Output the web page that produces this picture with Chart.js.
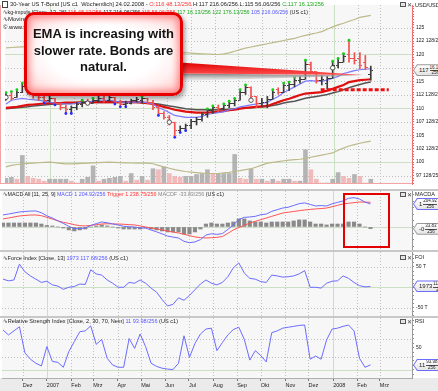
<!DOCTYPE html>
<html><head><meta charset="utf-8">
<script src="https://cdn.jsdelivr.net/npm/chart.js@4.4.1/dist/chart.umd.min.js"></script>
<style>
html,body{margin:0;padding:0;}
body{width:438px;height:391px;overflow:hidden;position:relative;background:#c8c8c8;font-family:"Liberation Sans",Arial,sans-serif;}
canvas{position:absolute;left:0;display:block;}
.t{position:absolute;white-space:nowrap;font-size:6px;line-height:7px;color:#222;transform-origin:0 0;}
.b{color:#5656ff}.r{color:#ff3434}.g{color:#1ca81c}.gy{color:#8a8a8a}
.ax{position:absolute;left:415px;font-size:5.5px;line-height:6px;color:#222;white-space:nowrap;}
.ic{position:absolute;left:400px;font-size:6px;line-height:6px;color:#444;white-space:nowrap;}
.ic i{display:inline-block;width:4px;height:3px;border:1px solid #555;background:#e4e4e4;vertical-align:top;margin-right:1px}
.vb{position:absolute;left:413px;width:30px;height:12px;clip-path:polygon(0 50%,4px 0,100% 0,100% 100%,4px 100%);}
.vb .in{position:absolute;left:1px;top:1px;right:0;bottom:1px;clip-path:polygon(0 50%,3.5px 0,100% 0,100% 100%,3.5px 100%);background:linear-gradient(#ffffff,#e4e4e4);font-size:6px;line-height:10px;color:#222;white-space:nowrap;padding-left:5px;}
.fr{display:inline-block;vertical-align:top;font-size:4.5px;line-height:4.6px;text-align:center;margin-left:1px;margin-top:0.5px}
.fr span{display:block}
.fr span:first-child{border-bottom:0.5px solid #555}
#icon0{position:absolute;left:2px;top:1px;width:4px;height:5px;border:1px solid #444;background:#fff;}
#callout{position:absolute;left:24px;top:12px;width:153px;height:78px;border:3px solid #e80000;border-radius:10px;
 background:radial-gradient(ellipse at center,#ffffff 50%,#fff0f0 70%,#ffc4c4 100%);
 box-shadow:inset 0 0 6px 3px rgba(255,50,50,0.45),2px 3px 4px rgba(0,0,0,0.35);}
#ctext{position:absolute;left:24px;top:26px;width:159px;text-align:center;font-weight:bold;font-size:13px;line-height:16.5px;color:#141414;white-space:nowrap;}
#redbox{position:absolute;left:343px;top:193px;width:43px;height:51px;border:2px solid #e40000;}
</style></head><body>
<canvas id="cMain" width="438" height="189" style="top:0px"></canvas>
<canvas id="cMacd" width="438" height="59" style="top:191px"></canvas>
<canvas id="cFoi" width="438" height="64" style="top:252px"></canvas>
<canvas id="cRsi" width="438" height="73" style="top:318px"></canvas>

<div id="icon0"></div>
<div class="t" id="h1" style="left:10px;top:0.5px">30-Year US T-Bond [US c1&nbsp; Wöchentlich] 24.02.2008 - <span class="r">O:116 48.13/256</span> H:117 216.06/256 L:115 56.06/256 <span class="g">C:117 16.13/256</span></div>
<div class="t" id="h2" style="left:3px;top:8.5px">∿kg-impuls [Close, 13, 26] <span class="r">116 48.13/256</span> 117 216.06/256 <span class="r">115 56.06/256</span> <span class="g">117 16.13/256</span> <span class="g">122 176.13/256</span> <span class="b">105 216.06/256</span> (US c1)</div>
<div class="t" id="h3" style="left:3px;top:16px">∿Moving Average [Close, 8, 21, 34]</div>
<div class="t" id="h4" style="left:3px;top:23.5px">© www.wallstreet-online.de</div>
<div class="ic" style="top:2px"><i></i>✕</div><div class="ax" style="top:1.5px">USD/USD</div>

<div class="t" id="hM" style="left:3px;top:191px">∿MACD All [11, 25, 9] <span class="b">MACD 1 204.92/256</span> <span class="r">Trigger 1 238.75/256</span> <span class="gy">MACDF -33.83/256</span> (US c1)</div>
<div class="ic" style="top:192px"><i></i>✕</div><div class="ax" style="top:190.5px">MACDA</div>

<div class="t" id="hF" style="left:3px;top:254.8px">∿Force Index [Close, 13] <span class="b">1973 117.68/256</span> (US c1)</div>
<div class="ic" style="top:255px"><i></i>✕</div><div class="ax" style="top:254px">FOI</div>

<div class="t" id="hR" style="left:3px;top:318.2px">∿Relative Strength Index [Close, 2, 30, 70, Nein] <span class="b">11 93.98/256</span> (US c1)</div>
<div class="ic" style="top:319px"><i></i>✕</div><div class="ax" style="top:318px">RSI</div>

<svg id="arrow" width="438" height="120" style="position:absolute;left:0;top:0">
 <defs>
  <linearGradient id="sh" x1="0" y1="0" x2="0" y2="1"><stop offset="0" stop-color="#7a7a7a"/><stop offset="1" stop-color="#e0e0e0" stop-opacity="0.4"/></linearGradient>
  <linearGradient id="rd" x1="0" y1="0" x2="0" y2="1"><stop offset="0" stop-color="#e00000"/><stop offset="1" stop-color="#ff5050"/></linearGradient>
 </defs>
 <polygon points="180,73.5 363,75.5 180,81" fill="url(#sh)"/>
 <polygon points="180,62.5 363,75 180,73.5" fill="url(#rd)"/>
</svg>
<div id="callout"></div>
<div id="ctext">EMA is increasing with<br>slower rate. Bonds are<br>natural.</div>
<div id="redbox"></div>

<script>
// ---------------- DATA (weekly bars, Nov 2006 – 22 Feb 2008) ----------------
const opens  = [111.50,112.39,112.04,112.92,113.98,113.28,112.39,112.04,111.50,111.86,110.97,110.09,109.73,110.09,110.62,111.15,110.97,111.50,111.86,111.50,112.04,111.15,110.62,110.97,111.50,111.50,111.86,111.15,110.09,109.03,108.32,107.43,105.84,106.20,106.73,107.61,107.97,108.85,109.56,110.09,109.91,110.44,110.97,111.50,112.92,113.81,112.21,110.80,111.15,111.68,113.45,112.92,114.16,114.34,115.22,115.40,118.23,116.82,115.22,114.69,115.58,117.88,118.58,120.00,119.29,119.29,118.58,116.19];
const highs  = [112.92,113.10,113.45,114.69,114.16,113.63,113.28,112.39,112.39,111.86,110.97,110.62,110.44,111.15,111.50,111.68,111.86,112.39,112.21,112.39,112.04,111.50,111.33,111.68,112.04,112.21,111.86,111.50,110.44,109.38,108.67,107.43,106.73,107.08,107.97,108.32,109.20,109.91,110.44,110.62,110.80,111.33,111.86,113.45,114.34,113.98,112.21,111.86,112.21,113.45,113.81,114.69,114.87,115.75,115.93,118.94,118.58,116.82,116.11,115.93,118.76,119.29,120.18,122.66,120.35,120.35,119.82,117.84];
const lows   = [111.50,111.50,112.04,112.92,112.57,111.86,111.50,110.97,111.15,110.62,109.73,109.03,109.03,109.73,110.27,110.62,110.97,111.15,111.15,111.33,110.80,110.27,110.27,110.80,111.15,110.97,110.80,109.73,108.67,107.97,106.90,104.60,105.49,105.84,106.20,106.90,107.61,108.32,109.03,109.38,109.73,110.09,110.44,111.50,112.57,111.50,110.09,110.27,110.09,111.68,112.57,112.92,113.28,113.98,114.69,115.40,116.46,114.69,114.34,113.63,115.58,117.52,118.58,118.58,118.23,117.35,117.17,115.22];
const closes = [112.39,111.86,112.92,113.98,113.28,112.39,112.04,111.50,111.86,110.97,110.09,109.73,110.09,110.62,111.15,110.97,111.50,111.86,111.50,112.04,111.15,110.62,110.97,111.50,111.68,111.86,111.15,110.09,109.03,108.32,107.43,105.84,106.20,106.73,107.61,107.97,108.85,109.56,110.09,109.91,110.44,110.97,111.50,112.92,113.81,112.21,110.80,111.15,111.68,112.92,112.92,114.16,114.34,115.22,115.40,118.23,116.82,115.22,115.40,115.58,117.88,118.58,119.65,119.29,118.94,117.88,117.52,117.06];
const volumes = [60,70,50,300,80,60,50,30,50,50,50,50,30,10,50,70,190,30,50,60,70,80,30,110,40,80,40,160,150,180,110,80,70,80,80,100,110,150,110,110,110,110,310,60,50,160,50,50,30,50,30,50,50,30,30,360,150,50,10,10,50,120,80,60,100,80,10,50];
const emaFast = [110.80,111.50,111.68,111.86,111.68,111.59,111.50,111.33,111.15,110.97,110.89,110.80,110.80,110.97,111.15,111.15,111.33,111.50,111.50,111.50,111.33,111.15,111.15,111.15,111.15,111.15,111.06,110.80,110.09,109.73,109.20,108.67,108.50,108.32,108.32,108.32,108.50,108.85,109.03,109.20,109.38,109.73,109.91,110.27,110.44,110.62,110.80,110.89,111.15,111.68,112.21,112.92,113.45,113.98,114.51,115.05,115.13,115.05,115.05,115.22,115.58,115.93,116.46,116.73,116.99,117.17,117.26,117.35];
const emaMid = [110.09,110.18,110.27,110.44,110.62,110.71,110.80,110.89,110.97,110.97,110.97,111.06,111.06,111.06,111.15,111.15,111.15,111.15,111.15,111.15,111.15,111.15,111.15,111.15,111.15,111.06,110.97,110.80,110.53,110.27,110.00,109.73,109.56,109.38,109.29,109.20,109.20,109.20,109.29,109.38,109.47,109.65,109.73,109.91,110.09,110.18,110.27,110.35,110.44,110.80,111.15,111.50,111.77,112.12,112.48,112.74,112.83,112.92,113.01,113.28,113.63,113.98,114.34,114.87,115.05,115.22,115.31,115.40];
const emaSlow = [109.91,110.00,110.09,110.18,110.27,110.44,110.53,110.62,110.71,110.80,110.80,110.89,110.89,110.97,110.97,110.97,111.06,111.06,111.06,111.06,111.06,111.06,111.06,111.06,111.06,111.06,110.97,110.89,110.80,110.62,110.44,110.27,110.09,109.91,109.82,109.73,109.73,109.73,109.73,109.73,109.73,109.82,109.91,110.00,110.09,110.09,110.18,110.27,110.35,110.53,110.71,110.97,111.15,111.33,111.59,111.86,112.04,112.21,112.39,112.57,112.83,113.10,113.45,113.81,114.16,114.43,114.69,114.87];
const bandUpper = [121.24,121.30,121.36,121.42,121.42,121.42,121.42,121.42,121.42,121.42,121.42,121.38,121.35,121.31,121.27,121.24,121.20,121.17,121.13,121.10,121.06,121.02,120.99,120.95,120.92,120.88,120.81,120.74,120.67,120.60,120.53,120.46,120.39,120.32,120.25,120.18,120.13,120.09,120.04,120.00,120.10,120.30,120.60,120.90,121.20,121.40,121.60,121.80,122.00,122.20,122.40,122.60,122.80,123.00,123.30,123.54,123.80,124.00,124.25,124.70,125.13,125.50,125.80,126.19,126.50,126.90,127.10,127.26];
const bandLower = [99.12,99.40,99.55,99.65,99.75,99.82,99.88,99.94,100.00,99.90,99.78,99.68,99.66,99.72,99.78,99.82,99.86,99.90,99.95,100.00,99.96,99.92,99.87,99.83,99.82,99.82,99.80,99.70,99.40,99.10,98.85,98.60,98.40,98.25,98.15,98.05,97.95,97.90,97.88,97.88,97.98,98.10,98.25,98.40,98.60,98.76,99.10,99.45,99.82,99.95,100.10,100.25,100.35,100.45,100.53,100.70,100.90,101.10,101.30,101.50,101.70,102.20,102.60,103.00,103.25,103.50,103.70,103.89];
const pivotHighIdx = [0,1,2,3,14,16,25,37,38,40,41,42,43,44,49,51,52,53,55,60,61,62,63];
const pivotLowIdx = [7,9,11,12,20,21,22,28,31,32,33];
const signalIdx = [0,15,30,45,60];
const signalPrice = [112.04,110.97,107.43,111.50,117.52];
const supportLevel = 113.45, supportFrom = 57.8, supportTo = 70.3;

const triggerLine = [0.63,0.70,0.78,0.86,0.90,0.93,0.94,0.88,0.75,0.62,0.48,0.36,0.28,0.18,0.10,0.08,0.12,0.18,0.23,0.25,0.24,0.23,0.21,0.18,0.16,0.08,0.00,-0.08,-0.15,-0.23,-0.32,-0.40,-0.47,-0.57,-0.68,-0.78,-0.83,-0.86,-0.84,-0.81,-0.75,-0.50,-0.23,-0.05,0.12,0.31,0.44,0.57,0.70,0.83,0.96,1.09,1.15,1.21,1.27,1.33,1.37,1.41,1.44,1.48,1.58,1.69,1.80,1.85,1.90,1.95,1.94,1.93];
const macdLine = [0.94,1.01,1.09,1.17,1.21,1.24,1.25,1.11,0.87,0.70,0.48,0.28,0.05,-0.13,-0.13,-0.08,0.12,0.26,0.39,0.33,0.24,0.15,0.05,0.02,0.00,-0.08,-0.08,-0.24,-0.38,-0.54,-0.71,-0.79,-0.86,-1.12,-1.23,-1.17,-0.99,-0.63,-0.53,-0.58,-0.52,-0.19,0.16,0.58,0.75,0.78,0.83,0.96,1.01,1.22,1.35,1.48,1.54,1.68,1.82,1.88,1.76,1.64,1.67,1.64,1.81,1.92,2.03,2.24,2.29,2.18,1.94,1.80];
const macdHist = [0.31,0.31,0.31,0.31,0.31,0.31,0.31,0.23,0.12,0.08,0,-0.08,-0.23,-0.31,-0.23,-0.16,0,0.08,0.16,0.08,0,-0.08,-0.16,-0.16,-0.16,-0.16,-0.08,-0.16,-0.23,-0.31,-0.39,-0.39,-0.39,-0.55,-0.55,-0.39,-0.16,0.23,0.31,0.23,0.23,0.31,0.39,0.63,0.63,0.47,0.39,0.39,0.31,0.39,0.39,0.39,0.39,0.47,0.55,0.55,0.39,0.23,0.23,0.16,0.23,0.23,0.23,0.39,0.39,0.23,0,-0.13];
const forceIndex = [20,16,18,57,38,28,20,12,15,6,3,-5,0,2,8,7,43,33,30,18,10,0,0,12,10,18,10,-2,-12,-30,-46,-42,-26,-32,-20,-6,8,18,10,6,12,26,48,60,35,22,20,14,12,30,28,25,26,28,33,41,0,0,-2,10,15,16,28,22,12,4,1,2];
const rsiValues = [89,78,87,96,38,24,15,9,52,19,17,6,41,63,85,87,98,57,68,26,11,6,6,70,48,80,52,15,8,4,2,1,15,76,28,59,80,91,93,43,61,78,90,95,68,22,43,32,18,83,87,93,95,97,99,100,24,31,24,67,91,93,97,100,87,26,6,11.37];

const monthLabels  = ['Dez','2007','Feb','Mrz','Apr','Mai','Jun','Jul','Aug','Sep','Okt','Nov','Dez','2008','Feb','Mrz'];
const monthTickPos = [3.6,8.0,12.45,16.45,20.9,25.2,29.6,33.9,38.3,42.7,47.0,51.5,55.7,60.2,64.6,68.7];
const yearTickIdx = [1,13];
const priceTicks = [97.5,100,102.5,105,107.5,110,112.5,115,117.5,120,122.5,125];
const priceTickLabels = ['97 128/256','100','102 128/256','105','107 128/256','110','112 128/256','115','117 128/256','120','122 128/256','125'];
const forceTicks = [-50,50], forceTickLabels = ['-50 T','50 T'];
const rsiTicks = [50], rsiTickLabels = ['50'];

// ---------------- helpers ----------------
Chart.defaults.font.family = '"Liberation Sans", Arial, sans-serif';
const weekIdx = closes.map((_, i) => i);
const pts = arr => arr.map((v, i) => ({x: i, y: v}));
const XMIN = -0.18, XMAX = 74.57;
const vDot = monthTickPos.filter((_, i) => !yearTickIdx.includes(i));
const vMaj = yearTickIdx.map(i => monthTickPos[i]);

function seg(ctx, x1, y1, x2, y2){ctx.beginPath();ctx.moveTo(x1,y1);ctx.lineTo(x2,y2);ctx.stroke();}
const panelPlugin = {
  id: 'panel',
  beforeDraw(chart, args, o) {
    const {ctx, chartArea: a} = chart;
    const xs = chart.scales.x, ys = chart.scales.y;
    ctx.save();
    ctx.fillStyle = '#ffffff'; ctx.fillRect(0, 0, chart.width, chart.height);
    if (o.axisBg) { ctx.fillStyle = o.axisBg; ctx.fillRect(0, a.bottom, chart.width, chart.height - a.bottom); }
    ctx.fillStyle = '#f7f7f7'; ctx.fillRect(a.left, a.top, a.right - a.left, a.bottom - a.top);
    ctx.lineWidth = 1;
    ctx.strokeStyle = '#c0c0c0'; ctx.setLineDash([1, 2]);
    (o.vDot || []).forEach(v => { const p = Math.round(xs.getPixelForValue(v)) + 0.5; seg(ctx, p, a.top, p, a.bottom); });
    (o.hDot || []).forEach(v => { const p = Math.round(ys.getPixelForValue(v)) + 0.5; seg(ctx, a.left, p, a.right, p); });
    ctx.setLineDash([]); ctx.strokeStyle = '#cadfc3';
    (o.vMaj || []).forEach(v => { const p = Math.round(xs.getPixelForValue(v)) + 0.5; seg(ctx, p, a.top, p, a.bottom); });
    (o.hMaj || []).forEach(v => { const p = Math.round(ys.getPixelForValue(v)) + 0.5; seg(ctx, a.left, p, a.right, p); });
    ctx.restore();
  },
  afterDraw(chart, args, o) {
    if (!o.frame) return;
    const {ctx, chartArea: a} = chart;
    ctx.save(); ctx.strokeStyle = o.frame; ctx.lineWidth = 1;
    seg(ctx, 0.5, a.top, 0.5, a.bottom); seg(ctx, 0, a.bottom - 0.5, a.right, a.bottom - 0.5);
    ctx.restore();
  }
};

function stepTicks(from, to, step) { const r = []; for (let k = Math.ceil(from/step); k*step <= to + 1e-9; k++) r.push(Math.round(k*step*1000)/1000); return r; }
function yAxis(min, max, minorStep, majors, labels, borderColor) {
  const all = stepTicks(min, max, minorStep);
  majors.forEach(v => { if (!all.some(t => Math.abs(t - v) < 1e-6)) all.push(v); });
  all.sort((a, b) => a - b);
  return {
    position: 'right', min, max, offset: false,
    afterBuildTicks: s => { s.ticks = all.map(v => ({value: v})); },
    afterFit: s => { s.width = 26; s.paddingTop = 0; s.paddingBottom = 0; },
    ticks: { autoSkip: false, padding: 2, color: '#222', font: {size: 5},
      callback: v => { const k = majors.findIndex(t => Math.abs(t - v) < 1e-6); return k >= 0 ? labels[k] : ''; } },
    grid: { display: true, drawOnChartArea: false, drawTicks: true, tickLength: 2, color: '#8c8c8c' },
    border: { display: true, color: borderColor, width: 1 }
  };
}
const xHidden = { type: 'linear', min: XMIN, max: XMAX, display: false, offset: false, grid: {offset: false} };
const baseOpts = (pad) => ({
  responsive: false, animation: false, events: [], devicePixelRatio: 1,
  layout: { padding: pad },
});

function tickImg(color, left) {
  const c = document.createElement('canvas'); c.width = 5; c.height = 1;
  const g = c.getContext('2d'); g.fillStyle = color; g.fillRect(left ? 0 : 3, 0, 2, 1);
  return c;
}
const UP = '#3a3a3a', DN = '#f05050';
const isUp = weekIdx.map(i => closes[i] >= opens[i]);
const openUp = tickImg(UP, true), openDn = tickImg(DN, true), closeUp = tickImg(UP, false), closeDn = tickImg(DN, false);
const volCol = weekIdx.map(i => (i === 0 || volumes[i] >= volumes[i-1]) ? 'rgba(168,168,168,0.85)' : 'rgba(240,176,176,0.85)');

// ---------------- MAIN PRICE PANEL ----------------
const main = new Chart(document.getElementById('cMain'), {
  type: 'bar',
  data: { datasets: [
    { type: 'line', data: [{x: supportFrom, y: supportLevel}, {x: supportTo, y: supportLevel}], borderColor: '#ee1010', borderWidth: 3, borderDash: [4, 2], pointRadius: 0, order: -1 },
    { type: 'scatter', data: signalIdx.map((i, k) => ({x: i, y: signalPrice[k]})), pointStyle: 'circle', pointRadius: 2.2, borderColor: '#333', backgroundColor: '#fff', borderWidth: 0.8, order: 0 },
    { type: 'scatter', data: pivotHighIdx.map(i => ({x: i, y: highs[i]})), pointRadius: 1.4, backgroundColor: '#12d012', borderWidth: 0, order: 1 },
    { type: 'scatter', data: pivotLowIdx.map(i => ({x: i, y: lows[i]})), pointRadius: 1.4, backgroundColor: '#2a2aff', borderWidth: 0, order: 1 },
    { type: 'scatter', data: pts(opens), pointRadius: 1, pointStyle: c => isUp[c.dataIndex] ? openUp : openDn, order: 2 },
    { type: 'scatter', data: pts(closes), pointRadius: 1, pointStyle: c => isUp[c.dataIndex] ? closeUp : closeDn, order: 2 },
    { type: 'bar', data: weekIdx.map(i => ({x: i, y: [lows[i], highs[i]]})), barThickness: 1, grouped: false, backgroundColor: weekIdx.map(i => isUp[i] ? UP : DN), borderWidth: 0, order: 3 },
    { type: 'line', data: pts(emaFast), borderColor: '#7a7aff', borderWidth: 1.2, pointRadius: 0, order: 5 },
    { type: 'line', data: pts(emaMid), borderColor: '#e01010', borderWidth: 2.2, pointRadius: 0, order: 6 },
    { type: 'line', data: pts(emaSlow), borderColor: '#555555', borderWidth: 1.5, pointRadius: 0, order: 7 },
    { type: 'line', data: pts(bandUpper), borderColor: '#bdb98a', borderWidth: 1.2, pointRadius: 0, order: 8 },
    { type: 'line', data: pts(bandLower), borderColor: '#bdb98a', borderWidth: 1.2, pointRadius: 0, order: 8 },
    { type: 'bar', yAxisID: 'yv', data: pts(volumes), barThickness: 4, grouped: false, backgroundColor: volCol, borderWidth: 0, order: 9 }
  ]},
  options: Object.assign(baseOpts({left: 2, right: 0, top: 0, bottom: 1}), {
    plugins: { legend: {display: false}, tooltip: {enabled: false},
      panel: { vDot, vMaj, hDot: priceTicks.filter(v => v % 10 !== 0), hMaj: priceTicks.filter(v => v % 10 === 0), frame: '#f3a4a4' } },
    scales: {
      x: xHidden,
      y: yAxis(95.93, 129.2, 0.5, priceTicks, priceTickLabels, '#f07070'),
      yv: { display: false, min: 0, max: 1880 }
    }
  }),
  plugins: [panelPlugin]
});

// ---------------- MACD PANEL ----------------
const macd = new Chart(document.getElementById('cMacd'), {
  type: 'bar',
  data: { datasets: [
    { type: 'line', data: pts(macdLine), borderColor: '#6c6cff', borderWidth: 1, pointRadius: 0, order: 0 },
    { type: 'line', data: pts(triggerLine), borderColor: '#ff5454', borderWidth: 1, pointRadius: 0, order: 1 },
    { type: 'bar', data: pts(macdHist), barThickness: 3.5, grouped: false, backgroundColor: '#8a8a8a', borderWidth: 0, order: 2 }
  ]},
  options: Object.assign(baseOpts({left: 2, right: 0, top: 0, bottom: 0}), {
    plugins: { legend: {display: false}, tooltip: {enabled: false}, panel: { vDot, vMaj, hMaj: [0] } },
    scales: { x: xHidden, y: yAxis(-1.80, 2.81, 0.5, [], [], '#9a9a9a') }
  }),
  plugins: [panelPlugin]
});

// ---------------- FORCE INDEX PANEL ----------------
const foi = new Chart(document.getElementById('cFoi'), {
  type: 'line',
  data: { datasets: [ { data: pts(forceIndex), borderColor: '#6c6cff', borderWidth: 1, pointRadius: 0 } ]},
  options: Object.assign(baseOpts({left: 2, right: 0, top: 0, bottom: 0}), {
    plugins: { legend: {display: false}, tooltip: {enabled: false}, panel: { vDot, vMaj, hDot: forceTicks, hMaj: [0] } },
    scales: { x: xHidden, y: yAxis(-70.7, 86.9, 10, forceTicks, forceTickLabels, '#9a9a9a') }
  }),
  plugins: [panelPlugin]
});

// ---------------- RSI PANEL (with time axis) ----------------
const rsi = new Chart(document.getElementById('cRsi'), {
  type: 'line',
  data: { datasets: [ { data: pts(rsiValues), borderColor: '#6c6cff', borderWidth: 1, pointRadius: 0 } ]},
  options: Object.assign(baseOpts({left: 2, right: 0, top: 0, bottom: 0}), {
    plugins: { legend: {display: false}, tooltip: {enabled: false}, panel: { vDot, vMaj, hDot: [30, 70], hMaj: [0], axisBg: '#ebebeb' } },
    scales: {
      x: { type: 'linear', min: XMIN, max: XMAX, position: 'bottom', offset: false,
        afterBuildTicks: s => { s.ticks = monthTickPos.map(v => ({value: v})); },
        afterFit: s => { s.height = 13; s.paddingLeft = 0; s.paddingRight = 0; },
        ticks: { autoSkip: false, maxRotation: 0, minRotation: 0, align: 'start', padding: 1, color: '#222', font: {size: 5.5},
          callback: (v, i) => monthLabels[i] },
        grid: { display: true, drawOnChartArea: false, drawTicks: true, tickLength: 3, color: '#777', offset: false },
        border: { display: true, color: '#b0b0b0' } },
      y: yAxis(-17.8, 115.6, 10, rsiTicks, rsiTickLabels, '#9a9a9a')
    }
  }),
  plugins: [panelPlugin]
});

// ---------------- value boxes on the right axes ----------------
function vbox(chart, value, big, num, den, color) {
  const top0 = chart.canvas.offsetTop;
  const y = top0 + chart.scales.y.getPixelForValue(value);
  const d = document.createElement('div');
  d.className = 'vb'; d.style.top = (y - 6) + 'px'; d.style.background = color;
  d.innerHTML = '<div class="in">' + big + '<span class="fr"><span>' + num + '</span><span>' + den + '</span></span></div>';
  document.body.appendChild(d);
}
vbox(main, closes[closes.length - 1], '117', '16.13', '256', '#9a9a9a');
vbox(macd, macdLine[macdLine.length - 1], '1', '204.92', '256', '#6c6cff');
vbox(macd, macdHist[macdHist.length - 1], '-0', '33.83', '256', '#9a9a9a');
vbox(foi, forceIndex[forceIndex.length - 1], '1973', '117.68', '256', '#6c6cff');
vbox(rsi, rsiValues[rsiValues.length - 1], '11', '93.98', '256', '#6c6cff');

// bring annotations above the value boxes/canvases
['arrow','callout','ctext','redbox'].forEach(id => document.body.appendChild(document.getElementById(id)));

// ---------------- fit the small header texts to their widths ----------------
function fit(id, w) { const el = document.getElementById(id); const r = el.getBoundingClientRect().width; if (r > 0) el.style.transform = 'scaleX(' + (w / r) + ')'; }
fit('h1', 314); fit('h2', 305); fit('hM', 221); fit('hF', 125); fit('hR', 175);
</script>
</body></html>
